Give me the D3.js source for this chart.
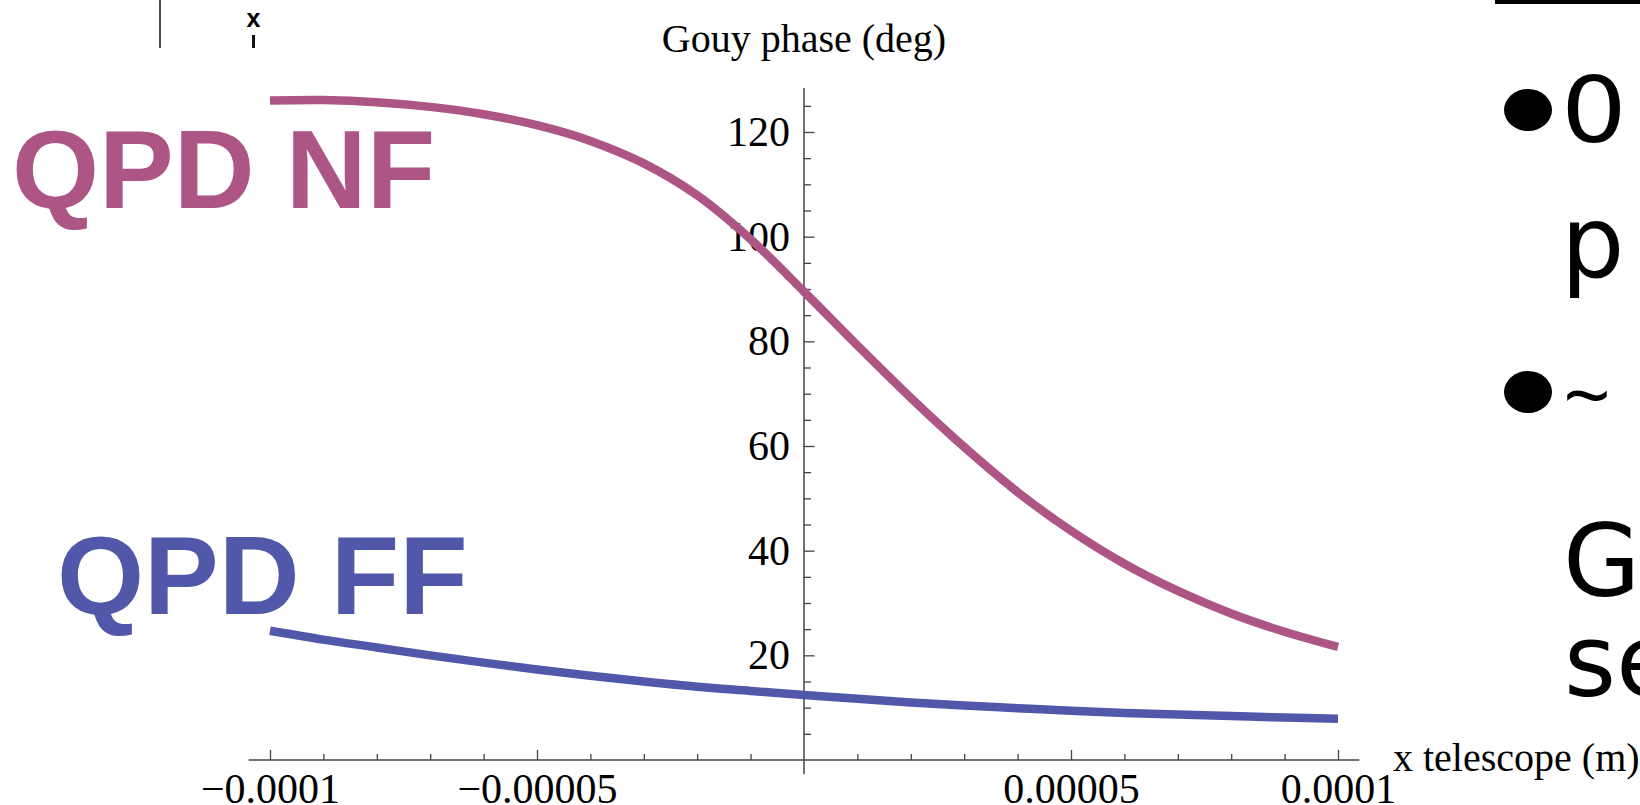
<!DOCTYPE html>
<html>
<head>
<meta charset="utf-8">
<script src="https://cdn.jsdelivr.net/npm/d3@7"></script>
<style>
  html, body { margin: 0; padding: 0; background: #fff; overflow: hidden; }
  svg { display: block; }
</style>
</head>
<body>
<div id="chartContainer"></div>
<script>
// Gouy phase vs telescope position
const xValues = [-0.0001, -0.00009, -0.00008, -0.00007, -0.00006, -0.00005, -0.00004, -0.00003, -0.00002, -0.00001,
    0, 0.00001, 0.00002, 0.00003, 0.00004, 0.00005, 0.00006, 0.00007, 0.00008, 0.00009, 0.0001];
const nfPhase = [126.0, 126.1, 125.7, 124.8, 123.4, 121.3, 118.3, 114.0, 107.9, 99.5,
    89.5, 79.2, 69.2, 59.8, 51.2, 43.8, 37.5, 32.3, 28.0, 24.5, 21.6];
const ffPhase = [24.7, 23.0, 21.5, 20.0, 18.6, 17.3, 16.1, 15.0, 14.0, 13.2,
    12.4, 11.7, 11.0, 10.4, 9.9, 9.4, 9.0, 8.7, 8.4, 8.1, 7.9];

const xTickValues = [-0.0001, -0.00005, 0.00005, 0.0001];
const xTickLabels = ['\u22120.0001', '\u22120.00005', '0.00005', '0.0001'];
const xMinorTicks = [-0.00009, -0.00008, -0.00007, -0.00006, -0.00004, -0.00003, -0.00002, -0.00001,
    0.00001, 0.00002, 0.00003, 0.00004, 0.00006, 0.00007, 0.00008, 0.00009];
const yTickValues = [20, 40, 60, 80, 100, 120];
const yMinorTicks = [5, 10, 15, 25, 30, 35, 45, 50, 55, 65, 70, 75, 85, 90, 95, 105, 110, 115, 125];

const W = 1640, H = 805;
const serif = '"Liberation Serif", "Times New Roman", serif';
const nfColor = '#ad5686';
const ffColor = '#5157a9';
const axisColor = '#444';

const svg = d3.select('#chartContainer').append('svg')
    .attr('width', W)
    .attr('height', H);

// scales
const x = d3.scaleLinear().domain([-0.0001, 0.0001]).range([270, 1338]);
const y = d3.scaleLinear().domain([0, 120]).range([760, 132]);

// axis lines (Mathematica style, crossing at origin)
svg.append('line')
    .attr('x1', x(-0.000104)).attr('x2', x(0.000104))
    .attr('y1', y(0)).attr('y2', y(0))
    .attr('stroke', axisColor).attr('stroke-width', 1.5);
svg.append('line')
    .attr('x1', x(0)).attr('x2', x(0))
    .attr('y1', y(-2.7)).attr('y2', y(128.4))
    .attr('stroke', axisColor).attr('stroke-width', 1.5);

// x axis ticks
svg.append('g')
    .attr('transform', `translate(0,${y(0)})`)
    .call(d3.axisBottom(x).tickValues(xTickValues)
        .tickFormat((d, i) => xTickLabels[i])
        .tickSize(-10).tickPadding(13));
svg.append('g')
    .attr('transform', `translate(0,${y(0)})`)
    .call(d3.axisBottom(x).tickValues(xMinorTicks).tickFormat('').tickSize(-6));

// y axis ticks
svg.append('g')
    .attr('transform', `translate(${x(0)},0)`)
    .call(d3.axisLeft(y).tickValues(yTickValues).tickSize(-10.5).tickPadding(14));
svg.append('g')
    .attr('transform', `translate(${x(0)},0)`)
    .call(d3.axisLeft(y).tickValues(yMinorTicks).tickFormat('').tickSize(-7));

svg.selectAll('.domain').remove();
svg.selectAll('.tick line').attr('stroke', axisColor).attr('stroke-width', 1.3);
svg.selectAll('.tick text')
    .attr('fill', '#000')
    .style('font-family', serif)
    .style('font-size', '42px');

// axis labels
svg.append('text')
    .attr('x', x(0)).attr('y', 52)
    .attr('text-anchor', 'middle')
    .style('font-family', serif).style('font-size', '40px')
    .text('Gouy phase (deg)');
svg.append('text')
    .attr('x', 1393).attr('y', 771)
    .style('font-family', serif).style('font-size', '40px')
    .text('x telescope (m)');

// curves
const line = d3.line()
    .x((d, i) => x(xValues[i]))
    .y(d => y(d))
    .curve(d3.curveCatmullRom);

svg.append('path')
    .datum(ffPhase)
    .attr('d', line)
    .attr('fill', 'none')
    .attr('stroke', ffColor)
    .attr('stroke-width', 8.5);
svg.append('path')
    .datum(nfPhase)
    .attr('d', line)
    .attr('fill', 'none')
    .attr('stroke', nfColor)
    .attr('stroke-width', 8.5);

// curve labels
svg.append('text')
    .attr('x', 12).attr('y', 208)
    .attr('fill', nfColor)
    .style('font-family', '"Liberation Sans", Arial, sans-serif')
    .style('font-weight', 'bold').style('font-size', '112px')
    .text('QPD NF');
svg.append('text')
    .attr('x', 57).attr('y', 614)
    .attr('fill', ffColor)
    .style('font-family', '"Liberation Sans", Arial, sans-serif')
    .style('font-weight', 'bold').style('font-size', '112px')
    .text('QPD FF');

// slide leftovers: top-left marks
svg.append('line')
    .attr('x1', 160).attr('x2', 160).attr('y1', 0).attr('y2', 48)
    .attr('stroke', '#111').attr('stroke-width', 1.5);
svg.append('text')
    .attr('x', 253.5).attr('y', 27)
    .attr('text-anchor', 'middle')
    .style('font-family', '"Liberation Sans", Arial, sans-serif')
    .style('font-weight', 'bold').style('font-size', '25px')
    .text('x');
svg.append('rect')
    .attr('x', 252).attr('y', 35).attr('width', 3).attr('height', 13)
    .attr('fill', '#111');

// slide leftovers: right-hand bullet text (clipped at edge)
svg.append('rect')
    .attr('x', 1495).attr('y', 0).attr('width', 145).attr('height', 4)
    .attr('fill', '#000');

[110, 392].forEach(cy => {
    svg.append('ellipse')
        .attr('cx', 1528).attr('cy', cy)
        .attr('rx', 24).attr('ry', 21)
        .attr('fill', '#000');
});
const bulletLines = [
    { text: '0', y: 142, size: 90, x: 1561, sx: 1.15, font: '"DejaVu Sans", sans-serif' },
    { text: 'p', y: 277, size: 100, x: 1561, sx: 1, font: '"DejaVu Sans", sans-serif' },
    { text: '~', y: 425, size: 84, x: 1563, sx: 1, font: '"Open Sans", sans-serif' },
    { text: 'G', y: 596, size: 100, x: 1563, sx: 1, font: '"DejaVu Sans", sans-serif' },
    { text: 'se', y: 696, size: 100, x: 1564, sx: 1, font: '"DejaVu Sans", sans-serif' }
];
bulletLines.forEach(l => {
    svg.append('text')
        .attr('transform', `translate(${l.x},${l.y}) scale(${l.sx},1)`)
        .style('font-family', l.font).style('font-size', l.size + 'px')
        .text(l.text);
});
</script>
</body>
</html>
